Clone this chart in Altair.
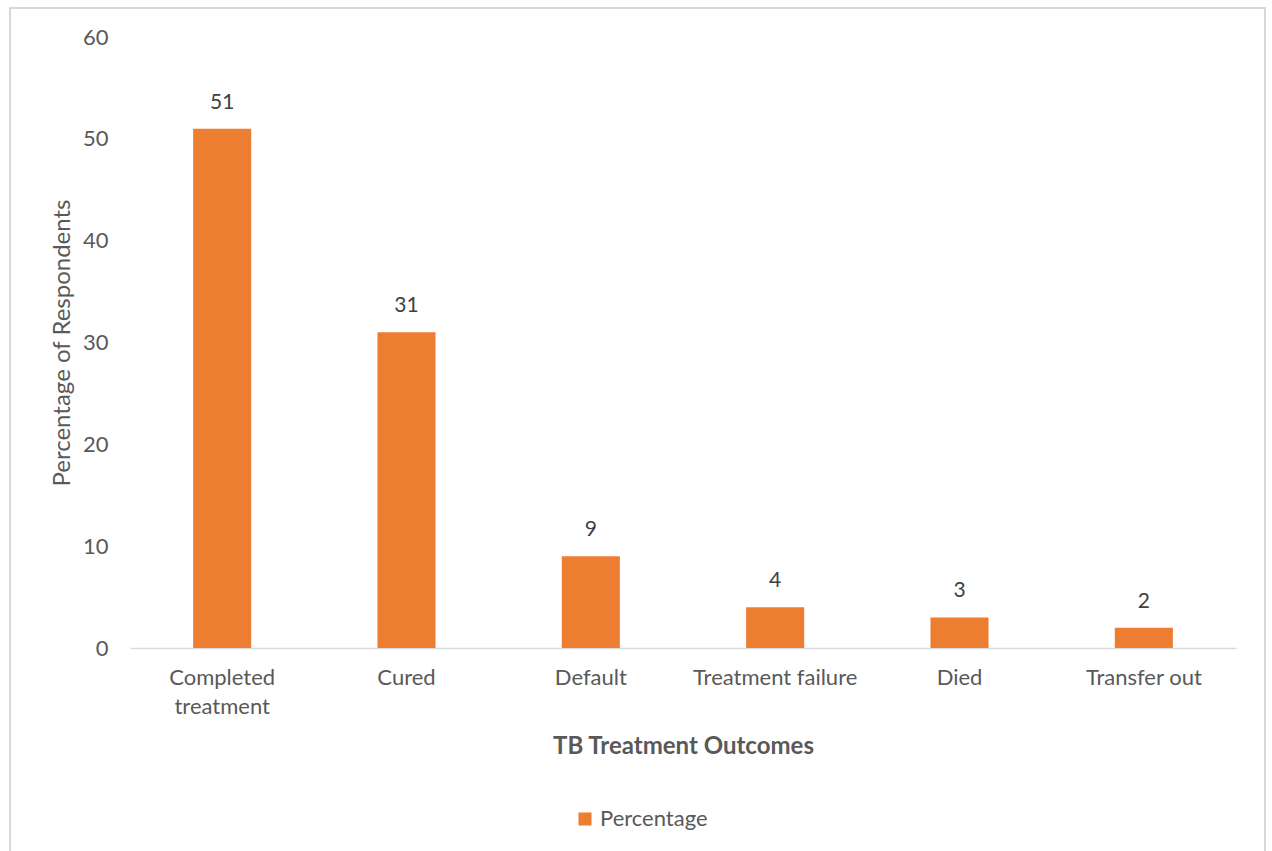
import altair as alt
import pandas as pd

# TB treatment outcomes, percentage of respondents
outcomes = ["Completed treatment", "Cured", "Default", "Treatment failure", "Died", "Transfer out"]
percentages = [51, 31, 9, 4, 3, 2]
series_name = "Percentage"

df = pd.DataFrame({"outcome": outcomes, "pct": percentages, "series": series_name})

FONT = "Lato"
GRAY = "#595959"
ORANGE = "#ED7D31"

W, H = 1106, 611

x_enc = alt.X(
    "outcome:N",
    sort=outcomes,
    scale=alt.Scale(paddingInner=0.685, paddingOuter=0.3425),
    axis=alt.Axis(
        title="TB Treatment Outcomes",
        titleFont=FONT, titleFontSize=24, titleFontWeight="bold", titleColor=GRAY,
        titleY=98, titleBaseline="middle",
        labelFont=FONT, labelFontSize=22, labelColor=GRAY, labelAngle=0,
        labelPadding=19, labelLineHeight=29,
        labelExpr="datum.label == 'Completed treatment' ? ['Completed', 'treatment'] : datum.label",
        domainColor="#d9d9d9", domainWidth=1.5, ticks=False,
    ),
)

y_enc = alt.Y(
    "pct:Q",
    scale=alt.Scale(domain=[0, 60], nice=False),
    axis=alt.Axis(
        title="Percentage of Respondents",
        titleFont=FONT, titleFontSize=24, titleFontWeight="normal", titleColor=GRAY,
        titleX=-68, titleY=H / 2, titleAlign="center", titleBaseline="middle",
        labelFont=FONT, labelFontSize=22, labelColor=GRAY, labelPadding=22,
        values=[0, 10, 20, 30, 40, 50, 60],
        domain=False, ticks=False, grid=False,
    ),
)

bars = alt.Chart(df).mark_bar(color=ORANGE).encode(
    x=x_enc,
    y=y_enc,
    color=alt.Color(
        "series:N",
        scale=alt.Scale(range=[ORANGE]),
        legend=alt.Legend(
            title=None, orient="none", legendX=444, legendY=771,
            symbolType="square", symbolSize=170, symbolStrokeWidth=0,
            labelFont=FONT, labelFontSize=22, labelColor=GRAY, labelOffset=4,
        ),
    ),
)

labels = alt.Chart(df).mark_text(
    font=FONT, fontSize=21, color="#404040", dy=-26, baseline="middle"
).encode(
    x=alt.X("outcome:N", sort=outcomes),
    y="pct:Q",
    text="pct:Q",
)

# light frame around the whole chart area
frame = alt.Chart(df).mark_rect(
    fill=None, stroke="#d9d9d9", strokeWidth=2
).encode(
    x=alt.value(-120), x2=alt.value(1135),
    y=alt.value(-29), y2=alt.value(830),
)

chart = alt.layer(frame, bars, labels).properties(
    width=W, height=H,
    background="white",
    padding={"left": 130, "top": 37, "right": 36, "bottom": 203},
    autosize=alt.AutoSizeParams(type="none"),
).configure_view(strokeWidth=0, stroke="transparent")

chart.save("out.html", embed_options={"renderer": "svg", "actions": False})
